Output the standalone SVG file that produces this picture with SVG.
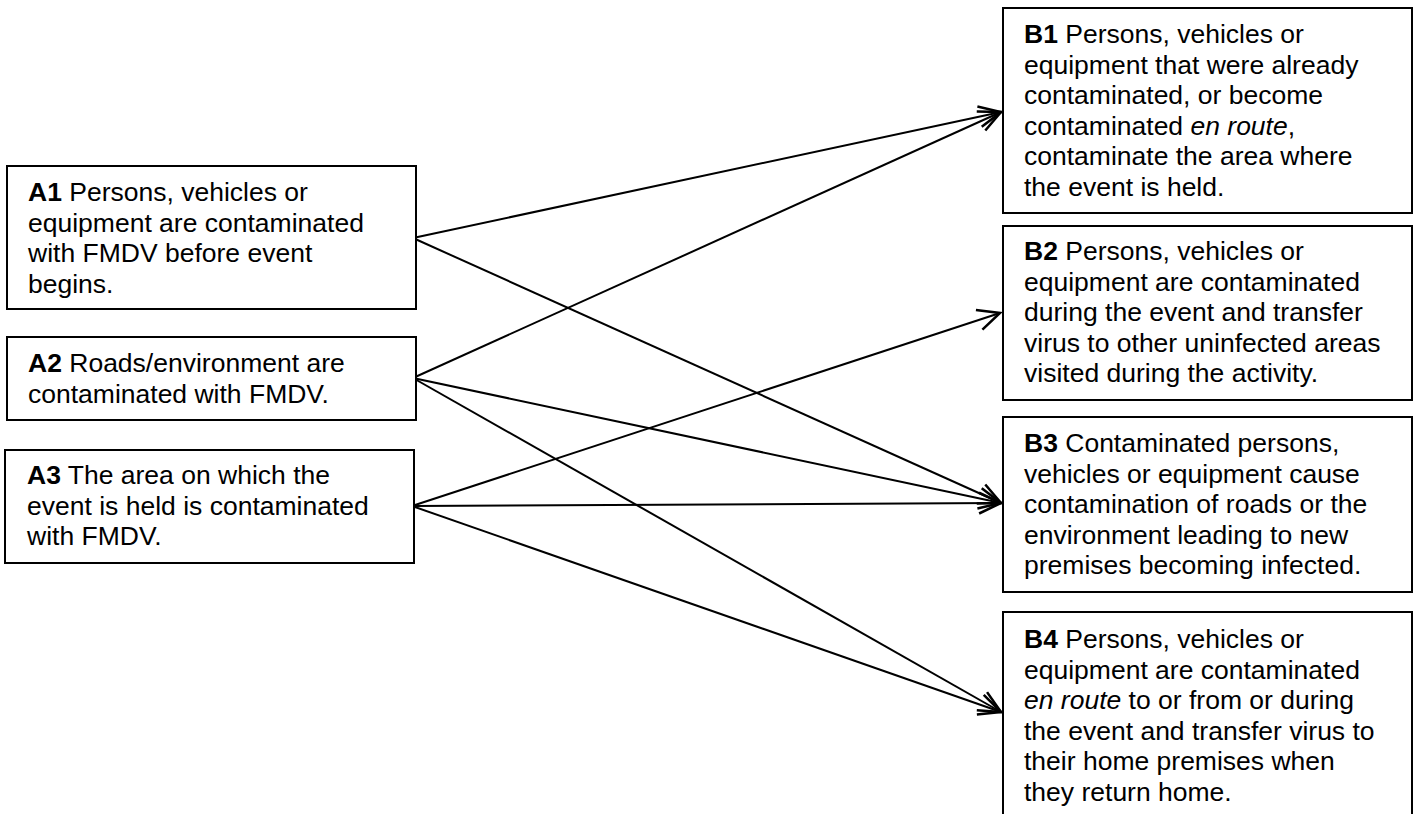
<svg xmlns="http://www.w3.org/2000/svg" width="1414" height="814" viewBox="0 0 1414 814">
<style>
.box{fill:#fff;stroke:#000;stroke-width:2}
.t{font-family:"Liberation Sans",Arial,sans-serif;font-size:26.5px;fill:#000}
.b{font-weight:bold}
.i{font-style:italic}
.c{stroke:#000;stroke-width:2;fill:none}
</style>
<defs>
<marker id="ah" markerUnits="userSpaceOnUse" markerWidth="30" markerHeight="30" viewBox="-22 -12 26 24" refX="0" refY="0" orient="auto">
<path d="M-19,-9 L0,0 L-19,9" fill="none" stroke="#000" stroke-width="2.2"/>
</marker>
</defs>
<rect width="1414" height="814" fill="#fff"/>
<g id="connectors">
<line class="c" x1="413" y1="238" x2="1001" y2="112" marker-end="url(#ah)"/>
<line class="c" x1="413" y1="238" x2="1001" y2="503" marker-end="url(#ah)"/>
<line class="c" x1="413" y1="378" x2="1001" y2="112" marker-end="url(#ah)"/>
<line class="c" x1="413" y1="378" x2="1001" y2="503" marker-end="url(#ah)"/>
<line class="c" x1="413" y1="378" x2="1001" y2="712" marker-end="url(#ah)"/>
<line class="c" x1="412" y1="506" x2="1000" y2="313" marker-end="url(#ah)"/>
<line class="c" x1="412" y1="506" x2="1001" y2="503" marker-end="url(#ah)"/>
<line class="c" x1="412" y1="506" x2="1001" y2="712" marker-end="url(#ah)"/>
</g>
<g id="A1">
<rect class="box" x="7" y="166" width="409" height="143"/>
<text class="t" x="28"><tspan x="28" y="201"><tspan class="b">A1</tspan> Persons, vehicles or</tspan><tspan x="28" y="231.5">equipment are contaminated</tspan><tspan x="28" y="262">with FMDV before event</tspan><tspan x="28" y="292.5">begins.</tspan></text>
</g>
<g id="A2">
<rect class="box" x="7" y="337" width="409" height="83"/>
<text class="t"><tspan x="28" y="372"><tspan class="b">A2</tspan> Roads/environment are</tspan><tspan x="28" y="402.5">contaminated with FMDV.</tspan></text>
</g>
<g id="A3">
<rect class="box" x="5" y="450" width="409" height="113"/>
<text class="t"><tspan x="27" y="484"><tspan class="b">A3</tspan> The area on which the</tspan><tspan x="27" y="514.5">event is held is contaminated</tspan><tspan x="27" y="545">with FMDV.</tspan></text>
</g>
<g id="B1">
<rect class="box" x="1003" y="8" width="409" height="205"/>
<text class="t"><tspan x="1024" y="43"><tspan class="b">B1</tspan> Persons, vehicles or</tspan><tspan x="1024" y="73.5">equipment that were already</tspan><tspan x="1024" y="104">contaminated, or become</tspan><tspan x="1024" y="134.5">contaminated <tspan class="i">en route</tspan>,</tspan><tspan x="1024" y="165">contaminate the area where</tspan><tspan x="1024" y="195.5">the event is held.</tspan></text>
</g>
<g id="B2">
<rect class="box" x="1003" y="226" width="409" height="174"/>
<text class="t"><tspan x="1024" y="260"><tspan class="b">B2</tspan> Persons, vehicles or</tspan><tspan x="1024" y="290.5">equipment are contaminated</tspan><tspan x="1024" y="321">during the event and transfer</tspan><tspan x="1024" y="351.5">virus to other uninfected areas</tspan><tspan x="1024" y="382">visited during the activity.</tspan></text>
</g>
<g id="B3">
<rect class="box" x="1003" y="417" width="409" height="175"/>
<text class="t"><tspan x="1024" y="452"><tspan class="b">B3</tspan> Contaminated persons,</tspan><tspan x="1024" y="482.5">vehicles or equipment cause</tspan><tspan x="1024" y="513">contamination of roads or the</tspan><tspan x="1024" y="543.5">environment leading to new</tspan><tspan x="1024" y="574">premises becoming infected.</tspan></text>
</g>
<g id="B4">
<rect class="box" x="1003" y="612" width="409" height="220"/>
<text class="t"><tspan x="1024" y="648"><tspan class="b">B4</tspan> Persons, vehicles or</tspan><tspan x="1024" y="678.5">equipment are contaminated</tspan><tspan x="1024" y="709"><tspan class="i">en route</tspan> to or from or during</tspan><tspan x="1024" y="739.5">the event and transfer virus to</tspan><tspan x="1024" y="770">their home premises when</tspan><tspan x="1024" y="800.5">they return home.</tspan></text>
</g>
</svg>
